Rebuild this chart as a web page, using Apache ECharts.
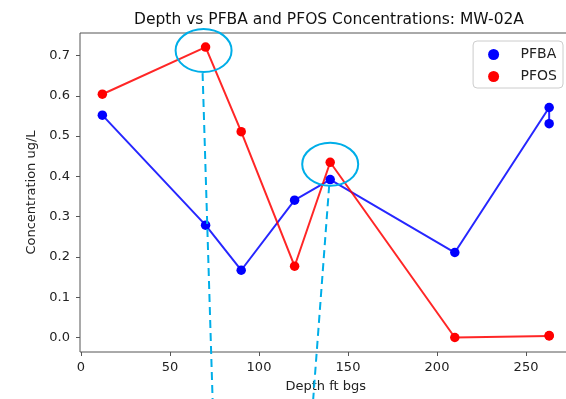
<!DOCTYPE html>
<html>
<head>
<meta charset="utf-8">
<script src="https://cdn.jsdelivr.net/npm/echarts@6/dist/echarts.min.js"></script>
<style>
  html, body { margin: 0; padding: 0; background: #fff; }
  #chart { width: 566px; height: 399px; }
</style>
</head>
<body>
<div id="chart"></div>
<script>
// depth (ft bgs) and concentrations (ug/L)
const pfbaDepth = [12, 70, 90, 120, 140, 210, 263, 263];
const pfbaConc = [0.552, 0.279, 0.167, 0.341, 0.392, 0.211, 0.571, 0.531];
const pfosDepth = [12, 70, 90, 120, 140, 210, 263, 263];
const pfosConc = [0.604, 0.721, 0.511, 0.177, 0.435, 0.0, 0.004, 0.005];
const xTicks = [0, 50, 100, 150, 200, 250];
const yTicks = [0, 0.1, 0.2, 0.3, 0.4, 0.5, 0.6, 0.7];
// circled points (PFOS)
const circled = [[70, 0.721], [140, 0.435]];

const font = "DejaVu Sans";
const pairs = (xs, ys) => xs.map((x, i) => [x, ys[i]]);

const myChart = echarts.init(document.getElementById("chart"));
myChart.setOption({
  animation: false,
  title: {
    text: "Depth vs PFBA and PFOS Concentrations: MW-02A",
    left: 324,
    top: 7,
    textAlign: "center",
    textStyle: { fontFamily: font, fontSize: 15.5, fontWeight: "normal", color: "#111" },
  },
  legend: {
    right: 3,
    top: 41,
    orient: "vertical",
    icon: "circle",
    itemWidth: 44,
    itemHeight: 11,
    itemGap: 6,
    padding: [5.5, 6, 3.5, 15],
    borderColor: "#cccccc",
    borderWidth: 1,
    borderRadius: 4,
    backgroundColor: "#fff",
    textStyle: { fontFamily: font, fontSize: 14, color: "#222", lineHeight: 16 },
    data: ["PFBA", "PFOS"],
  },
  grid: {
    left: 80,
    width: 491.5,
    top: 33,
    bottom: 47,
    outerBoundsMode: "none",
    show: true,
    borderColor: "#555",
    borderWidth: 1,
  },
  xAxis: {
    type: "value",
    min: -0.55,
    max: 275.55,
    name: "Depth ft bgs",
    nameLocation: "middle",
    nameGap: 28,
    nameTextStyle: { fontFamily: font, fontSize: 13, color: "#222" },
    axisLine: { show: false, onZero: false },
    splitLine: { show: false },
    axisTick: { show: true, length: 4, lineStyle: { color: "#555" }, customValues: xTicks },
    axisLabel: {
      fontFamily: font, fontSize: 13, color: "#222", margin: 9,
      customValues: xTicks,
      formatter: (v) => String(v),
    },
  },
  yAxis: {
    type: "value",
    min: -0.036,
    max: 0.756,
    name: "Concentration ug/L",
    nameLocation: "middle",
    nameGap: 42,
    nameTextStyle: { fontFamily: font, fontSize: 13, color: "#222" },
    axisLine: { show: false, onZero: false },
    splitLine: { show: false },
    axisTick: { show: true, length: 4, lineStyle: { color: "#555" }, customValues: yTicks },
    axisLabel: {
      fontFamily: font, fontSize: 13, color: "#222", margin: 10,
      customValues: yTicks,
      formatter: (v) => v.toFixed(1),
    },
  },
  series: [
    {
      name: "PFBA",
      type: "line",
      data: pairs(pfbaDepth, pfbaConc),
      symbol: "circle",
      symbolSize: 9.5,
      itemStyle: { color: "#0000ff" },
      lineStyle: { color: "#0000ff", width: 2, opacity: 0.85 },
    },
    {
      name: "PFOS",
      type: "line",
      data: pairs(pfosDepth, pfosConc),
      symbol: "circle",
      symbolSize: 9.5,
      itemStyle: { color: "#ff0000" },
      lineStyle: { color: "#ff0000", width: 2, opacity: 0.85 },
    },
  ],
});

// hand-drawn style call-outs: ellipse round the point and dashed line below it
const p1 = myChart.convertToPixel({ gridIndex: 0 }, circled[0]);
const p2 = myChart.convertToPixel({ gridIndex: 0 }, circled[1]);
const cyan = "#00aee8";
const H = myChart.getHeight();
myChart.setOption({
  graphic: [
    {
      type: "ellipse", shape: { cx: p1[0] - 2, cy: p1[1] + 3.5, rx: 28, ry: 21.5 },
      style: { fill: "none", stroke: cyan, lineWidth: 2 }, z: 100,
    },
    {
      type: "ellipse", shape: { cx: p2[0], cy: p2[1] + 2, rx: 28, ry: 21.5 },
      style: { fill: "none", stroke: cyan, lineWidth: 2 }, z: 100,
    },
    {
      type: "line", shape: { x1: p1[0] - 3, y1: p1[1] + 26, x2: p1[0] + 7, y2: H },
      style: { stroke: cyan, lineWidth: 2, lineDash: [8, 5] }, z: 100,
    },
    {
      type: "line", shape: { x1: p2[0] - 1, y1: p2[1] + 23, x2: p2[0] - 17, y2: H },
      style: { stroke: cyan, lineWidth: 2, lineDash: [8, 5] }, z: 100,
    },
  ],
});
</script>
</body>
</html>
